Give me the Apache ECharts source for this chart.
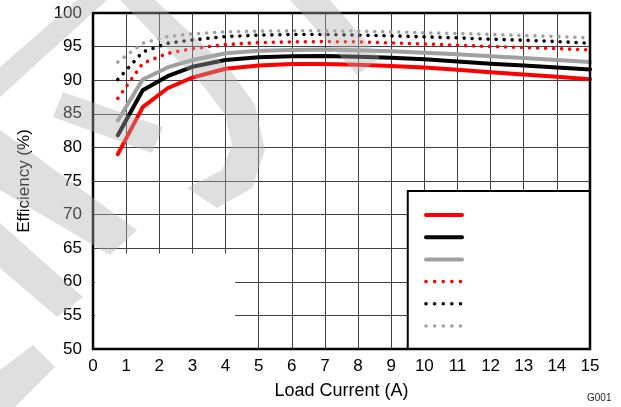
<!DOCTYPE html>
<html>
<head>
<meta charset="utf-8">
<script src="https://cdn.jsdelivr.net/npm/echarts@6/dist/echarts.min.js"></script>
<style>
html,body{margin:0;padding:0;background:#fff;}
#c{width:621px;height:407px;}
</style>
</head>
<body>
<div id="c"></div>
<script>
// ---- data ----
const loadCurrent = [0.75, 1.5, 2.25, 3, 4, 5, 6, 7, 8, 9, 10, 11, 12, 13, 14, 15];
const redSolid   = [79.0, 86.0, 88.8, 90.4, 91.7, 92.2, 92.4, 92.4, 92.3, 92.1, 91.9, 91.55, 91.2, 90.85, 90.5, 90.15];
const blackSolid = [81.8, 88.5, 90.6, 92.0, 93.0, 93.4, 93.55, 93.6, 93.5, 93.35, 93.1, 92.8, 92.45, 92.2, 91.9, 91.6];
const graySolid  = [84.0, 90.1, 91.9, 93.0, 94.0, 94.4, 94.5, 94.55, 94.45, 94.3, 94.1, 93.85, 93.55, 93.3, 93.0, 92.7];
const redDot     = [87.3, 92.5, 94.0, 94.7, 95.3, 95.6, 95.7, 95.75, 95.7, 95.55, 95.4, 95.2, 95.0, 94.85, 94.7, 94.5];
const blackDot   = [90.1, 94.2, 95.5, 96.0, 96.5, 96.7, 96.8, 96.8, 96.7, 96.6, 96.45, 96.3, 96.1, 95.95, 95.75, 95.5];
const grayDot    = [92.7, 95.5, 96.5, 96.9, 97.2, 97.3, 97.35, 97.35, 97.3, 97.2, 97.05, 96.95, 96.8, 96.65, 96.5, 96.3];
const seriesNames = ['S1', 'S2', 'S3', 'S4', 'S5', 'S6'];
const xTitle = 'Load Current (A)';
const yTitle = 'Efficiency (%)';
const figId = 'G001';

function pairs(ys){ return loadCurrent.map((x,i)=>[x, ys[i]]); }

const FONT = 'Liberation Sans, Arial, sans-serif';
const chart = echarts.init(document.getElementById('c'), null, {renderer:'canvas'});

function solid(name, ys, color){
  return {name, type:'line', data:pairs(ys), symbol:'none', z:2,
    lineStyle:{color, width:4, cap:'round', join:'round'}, itemStyle:{color}};
}
function dotted(name, ys, color){
  return {name, type:'line', data:pairs(ys), symbol:'none', z:2,
    lineStyle:{color, width:3.6, type:[0.01, 8], cap:'round', join:'round'}, itemStyle:{color}};
}
const legendData = seriesNames.map((n,i)=> i<3
  ? {name:n, itemStyle:{opacity:0}, lineStyle:{width:4}}
  : {name:n, itemStyle:{opacity:0}, lineStyle:{width:3.6, type:[0.01, 8.6], cap:'round'}});

chart.setOption({
  animation:false,
  backgroundColor:'#fff',
  grid:{left:93, right:31, top:13, bottom:58},
  xAxis:{type:'value', min:0, max:15, interval:1,
    name:xTitle, nameLocation:'middle', nameGap:33,
    nameTextStyle:{fontFamily:FONT, fontSize:18, color:'#000'},
    axisLine:{show:false}, axisTick:{show:false},
    axisLabel:{fontFamily:FONT, fontSize:17, color:'#000', margin:9},
    splitLine:{show:true, lineStyle:{color:'#404040', width:1}}},
  yAxis:{type:'value', min:50, max:100, interval:5,
    name:yTitle, nameLocation:'middle', nameGap:60,
    nameTextStyle:{fontFamily:FONT, fontSize:17, color:'#000'},
    axisLine:{show:false}, axisTick:{show:false},
    axisLabel:{fontFamily:FONT, fontSize:17, color:'#000', margin:11},
    splitLine:{show:true, lineStyle:{color:'#404040', width:1}}},
  legend:{show:true, orient:'vertical', left:424, top:211, z:6,
    itemWidth:36, itemHeight:10, itemGap:14.2, padding:0,
    itemStyle:{opacity:0},
    formatter:function(){return '';}, textStyle:{fontSize:8, lineHeight:10},
    data:legendData},
  series:[
    solid(seriesNames[0], redSolid, '#ff0000'),
    solid(seriesNames[1], blackSolid, '#000000'),
    solid(seriesNames[2], graySolid, '#a0a0a0'),
    dotted(seriesNames[3], redDot, '#ff0000'),
    dotted(seriesNames[4], blackDot, '#000000'),
    dotted(seriesNames[5], grayDot, '#a0a0a0')
  ]
});

function px(x,y){ return chart.convertToPixel({gridIndex:0},[x,y]); }
const tl = px(0,100), br = px(15,50);
const cov1 = px(0,64.2), cov2 = px(4.29,50);
const lg1 = px(9.5,73.5);

const wmStyle = {fill:'rgba(175,175,175,0.4)'};
const wm = [
  [[0,67],[77,0],[107,0],[0,97]],
  [[155,0],[230,70],[255,105],[265,150],[252,188],[217,208],[187,188],[222,170],[232,145],[225,115],[205,88],[120,0]],
  [[63,92],[163,127],[152,153],[53,117]],
  [[290,0],[330,0],[380,58],[357,75]],
  [[0,130],[137,230],[110,255],[0,190]],
  [[0,223],[83,297],[57,317],[0,268]],
  [[0,370],[33,345],[55,367],[15,407],[0,407]]
];

const graphics = [
  {type:'rect', z:1, silent:true,
    shape:{x:cov1[0]+2, y:cov1[1], width:cov2[0]-cov1[0]-2, height:cov2[1]-cov1[1]-1},
    style:{fill:'#fff'}},
  {type:'rect', z:3, silent:true,
    shape:{x:lg1[0], y:lg1[1], width:br[0]-lg1[0], height:br[1]-lg1[1]},
    style:{fill:'#fff', stroke:'#000', lineWidth:2}},
  {type:'rect', z:4, silent:true,
    shape:{x:tl[0], y:tl[1], width:br[0]-tl[0], height:br[1]-tl[1]},
    style:{fill:'none', stroke:'#000', lineWidth:2.5}},
  {type:'text', z:4, silent:true, left:587, top:393,
    style:{text:figId, fontFamily:FONT, fontSize:10, fill:'#222'}}
];
wm.forEach(p=>graphics.push({type:'polygon', z:10, silent:true, shape:{points:p}, style:wmStyle}));
chart.setOption({graphic:graphics});
</script>
</body>
</html>
